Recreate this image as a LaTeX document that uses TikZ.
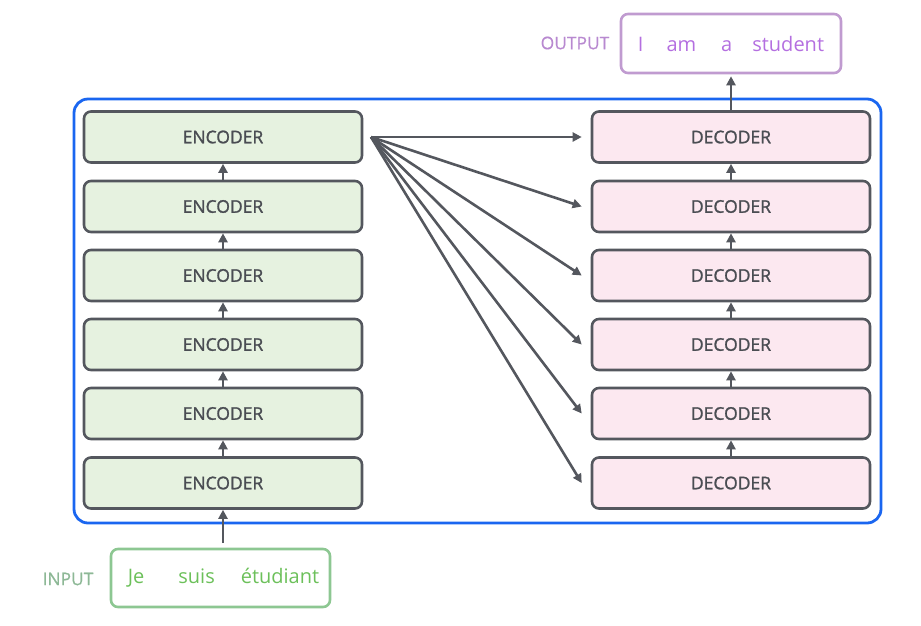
\documentclass[tikz,border=0pt]{standalone}
\usepackage{fontspec}
\setmainfont{Open Sans}
\newfontfamily\semib[FakeBold=1.3]{Open Sans}
\newfontfamily\medf[FakeBold=0.6]{Open Sans}
\usetikzlibrary{arrows.meta}
\definecolor{edge}{HTML}{54575E}
\definecolor{txt}{HTML}{4A4D53}
\definecolor{encfill}{HTML}{E6F2E0}
\definecolor{decfill}{HTML}{FCE8F0}
\definecolor{blueframe}{HTML}{1A66F0}
\definecolor{ingreen}{HTML}{8DC792}
\definecolor{intxt}{HTML}{6CC05A}
\definecolor{inlbl}{HTML}{8DB896}
\definecolor{outpurple}{HTML}{C09BD0}
\definecolor{outtxt}{HTML}{B46FE0}
\definecolor{outlbl}{HTML}{B889D0}
\tikzset{
  layerbox/.style={draw=edge, line width=2.6pt, rounded corners=7pt, minimum width=278pt, minimum height=51pt, inner sep=0pt, text=txt, font=\semib\fontsize{17.5}{20}\selectfont},
  enc/.style={layerbox, fill=encfill},
  dec/.style={layerbox, fill=decfill},
  conn/.style={draw=edge, line width=2.6pt, -{Triangle[length=9pt,width=9pt]}},
  inbox/.style={draw=ingreen, line width=2.6pt, rounded corners=7pt, minimum width=219pt, minimum height=58pt, inner sep=0pt, text=intxt, font=\fontsize{20}{23}\selectfont},
  outbox/.style={draw=outpurple, line width=2.6pt, rounded corners=7pt, minimum width=220pt, minimum height=59pt, inner sep=0pt, text=outtxt, font=\fontsize{20}{23}\selectfont},
  sidelabel/.style={font=\medf\fontsize{17.4}{20}\selectfont},
}
\begin{document}
\begin{tikzpicture}[x=1pt,y=-1pt]
\useasboundingbox (0,0) rectangle (921,625);
\node[draw=blueframe, line width=2.8pt, rounded corners=14pt, minimum width=807pt, minimum height=424pt, inner sep=0pt] (frame) at (477.5,311) {};
\foreach \i/\y in {1/483,2/413.5,3/344.5,4/275.5,5/206.5,6/137}{
  \node[enc] (e\i) at (223,\y) {ENCODER};
  \node[dec] (d\i) at (731,\y) {DECODER};
}
\foreach \i/\j in {1/2,2/3,3/4,4/5,5/6}{
  \draw[conn] (e\i.north) -- (e\j.south);
  \draw[conn] (d\i.north) -- (d\j.south);
}
\coordinate (src) at (371,137);
\foreach \i in {1,...,6}{
  \draw[conn] (src) -- ([xshift=-9pt]d\i.west);
}
\node[inbox] (in) at (220.5,578) {\hspace*{6pt}\raisebox{-2pt}{Je\hspace{34pt}suis\hspace{26pt}étudiant}};
\node[outbox] (out) at (731,43.5) {\raisebox{-1pt}{I\hspace{23pt}am\hspace{25pt}a\hspace{20pt}student}};
\node[sidelabel, text=inlbl] (inlabel) at (68,579) {INPUT};
\node[sidelabel, text=outlbl] (outlabel) at (575,43) {OUTPUT};
\coordinate (inarrow) at (223,543);
\draw[conn] (inarrow) -- (e1.south);
\draw[conn] (d6.north) -- ([yshift=-2pt]out.south);
\end{tikzpicture}
\end{document}
